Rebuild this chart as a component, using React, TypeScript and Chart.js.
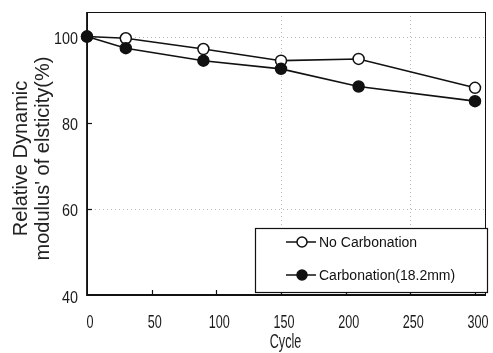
import React, { useEffect, useRef } from 'react';
import { Chart, registerables } from 'chart.js';
Chart.register(...registerables);

const cycles = [0, 30, 90, 150, 210, 300];
const noCarbonation = [100, 99.6, 97.1, 94.4, 94.8, 88.1];
const carbonation = [100, 97.3, 94.4, 92.5, 88.4, 85.0];
const seriesLabels = ['No Carbonation', 'Carbonation(18.2mm)'];
const xTicks = [0, 50, 100, 150, 200, 250, 300];
const yTicks = [40, 60, 80, 100];
const gridX = [150, 250];
const gridY = [60, 100];
const xTitle = 'Cycle';
const yTitle = ['Relative Dynamic', "modulus' of elsticity(%)"];

const FONT = '"Liberation Sans", Arial, sans-serif';

const customPlugin = {
  id: 'customDraw',
  beforeDatasetsDraw(chart: any) {
    const { ctx, chartArea: a, scales } = chart;
    const x = scales.x;
    const y = scales.y;
    ctx.save();
    // dotted grid
    ctx.strokeStyle = '#b8b8b8';
    ctx.lineWidth = 1;
    ctx.setLineDash([1, 3]);
    gridX.forEach((v) => {
      const px = Math.round(x.getPixelForValue(v)) + 0.5;
      ctx.beginPath();
      ctx.moveTo(px, a.top);
      ctx.lineTo(px, a.bottom);
      ctx.stroke();
    });
    gridY.forEach((v) => {
      const py = Math.round(y.getPixelForValue(v)) + 0.5;
      ctx.beginPath();
      ctx.moveTo(a.left, py);
      ctx.lineTo(a.right, py);
      ctx.stroke();
    });
    ctx.setLineDash([]);
    // frame
    ctx.strokeStyle = '#111';
    ctx.lineWidth = 1;
    ctx.strokeRect(a.left + 0.5, a.top + 0.5, a.right - a.left - 1, a.bottom - a.top - 1);
    ctx.lineWidth = 1.8;
    ctx.beginPath();
    ctx.moveTo(a.left, a.top);
    ctx.lineTo(a.left, a.bottom);
    ctx.lineTo(a.right, a.bottom);
    ctx.stroke();
    // inward ticks
    ctx.lineWidth = 1.2;
    xTicks.forEach((v) => {
      if (v === 0) return;
      const px = Math.round(x.getPixelForValue(v)) + 0.5;
      ctx.beginPath();
      ctx.moveTo(px, a.bottom);
      ctx.lineTo(px, a.bottom - 5);
      ctx.stroke();
    });
    yTicks.forEach((v) => {
      if (v === 40) return;
      const py = Math.round(y.getPixelForValue(v)) + 0.5;
      ctx.beginPath();
      ctx.moveTo(a.left, py);
      ctx.lineTo(a.left + 5, py);
      ctx.stroke();
    });
    // tick labels
    ctx.fillStyle = '#1a1a1a';
    ctx.font = `18px ${FONT}`;
    ctx.textAlign = 'center';
    ctx.textBaseline = 'alphabetic';
    xTicks.forEach((v) => {
      const px = x.getPixelForValue(v) + 3;
      ctx.save();
      ctx.translate(px, a.bottom + 33);
      ctx.scale(0.7, 1);
      ctx.fillText(String(v), 0, 0);
      ctx.restore();
    });
    ctx.font = `16.5px ${FONT}`;
    ctx.textAlign = 'right';
    yTicks.forEach((v) => {
      const py = y.getPixelForValue(v) + 7.5;
      ctx.save();
      ctx.translate(a.left - 9, py);
      ctx.scale(0.87, 1);
      ctx.fillText(String(v), 0, 0);
      ctx.restore();
    });
    // axis titles
    ctx.fillStyle = '#222';
    ctx.font = `20px ${FONT}`;
    ctx.textAlign = 'center';
    ctx.save();
    ctx.translate((a.left + a.right) / 2 - 1, a.bottom + 53);
    ctx.scale(0.63, 1);
    ctx.fillText(xTitle, 0, 0);
    ctx.restore();
    ctx.textBaseline = 'middle';
    yTitle.forEach((t, i) => {
      ctx.save();
      ctx.translate(21 + i * 22.5, (a.top + a.bottom) / 2 + 5);
      ctx.rotate(-Math.PI / 2);
      ctx.fillText(t, 0, 0);
      ctx.restore();
    });
    ctx.restore();
  },
  afterDraw(chart: any) {
    const { ctx } = chart;
    ctx.save();
    const bx = 255, by = 228, bw = 232, bh = 64;
    ctx.fillStyle = '#fff';
    ctx.fillRect(bx, by, bw, bh);
    ctx.strokeStyle = '#111';
    ctx.lineWidth = 1.2;
    ctx.strokeRect(bx + 0.5, by + 0.5, bw, bh);
    const rows = [242, 275];
    chart.data.datasets.forEach((ds: any, i: number) => {
      const idx = seriesLabels.indexOf(ds.label);
      const cy = rows[idx];
      ctx.strokeStyle = '#111';
      ctx.lineWidth = 1.5;
      ctx.beginPath();
      ctx.moveTo(286, cy);
      ctx.lineTo(316, cy);
      ctx.stroke();
      ctx.beginPath();
      ctx.arc(302, cy, 5, 0, Math.PI * 2);
      ctx.fillStyle = ds.pointBackgroundColor;
      ctx.fill();
      ctx.stroke();
      ctx.fillStyle = '#111';
      ctx.font = `14px ${FONT}`;
      ctx.textAlign = 'left';
      ctx.textBaseline = 'middle';
      ctx.fillText(ds.label, 319, cy + 1);
    });
    ctx.restore();
  },
};

export default function App() {
  const ref = useRef<HTMLCanvasElement>(null);
  useEffect(() => {
    if (!ref.current) return;
    const chart = new Chart(ref.current, {
      type: 'line',
      data: {
        datasets: [
          {
            label: seriesLabels[0],
            data: cycles.map((c, i) => ({ x: c, y: noCarbonation[i] })),
            borderColor: '#111',
            borderWidth: 1.6,
            pointRadius: 5.5,
            pointBorderWidth: 1.5,
            pointBackgroundColor: '#fff',
            pointBorderColor: '#111',
            order: 1,
            clip: false as any,
          },
          {
            label: seriesLabels[1],
            data: cycles.map((c, i) => ({ x: c, y: carbonation[i] })),
            borderColor: '#111',
            borderWidth: 1.6,
            pointRadius: 5.5,
            pointBorderWidth: 1.5,
            pointBackgroundColor: '#111',
            pointBorderColor: '#111',
            order: 0,
            clip: false as any,
          },
        ],
      },
      options: {
        animation: false,
        responsive: false,
        layout: { padding: { top: 12, right: 2, left: 0, bottom: 0 } },
        plugins: { legend: { display: false }, tooltip: { enabled: false } },
        scales: {
          x: {
            type: 'linear',
            min: 0,
            max: 308.5,
            ticks: { display: false },
            grid: { display: false },
            border: { display: false },
            afterBuildTicks: (s: any) => { s.ticks = xTicks.map((v) => ({ value: v })); },
            afterFit: (s: any) => { s.height = 58; },
          },
          y: {
            type: 'linear',
            min: 40,
            max: 105.7,
            ticks: { display: false },
            grid: { display: false },
            border: { display: false },
            afterBuildTicks: (s: any) => { s.ticks = yTicks.map((v) => ({ value: v })); },
            afterFit: (s: any) => { s.width = 87; },
          },
        },
      },
      plugins: [customPlugin],
    });
    return () => chart.destroy();
  }, []);
  return (
    <div style={{ position: 'fixed', left: 0, top: 0, width: 493, height: 353, background: '#fff' }}>
      <canvas ref={ref} width={493} height={353} style={{ width: 493, height: 353, display: 'block' }} />
    </div>
  );
}
